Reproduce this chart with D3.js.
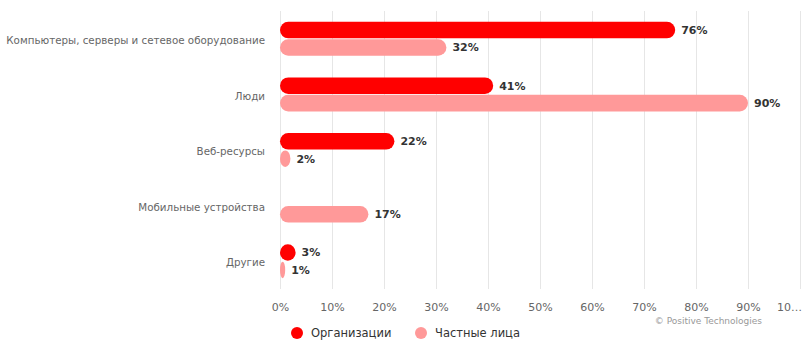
<!DOCTYPE html>
<html><head><meta charset="utf-8">
<script src="https://cdn.jsdelivr.net/npm/d3@7"></script>
<style>body{margin:0;background:#fff;}svg{display:block;}</style>
</head><body>
<svg id="c" width="805" height="340"></svg>
<script>
const categories = ["Компьютеры, серверы и сетевое оборудование","Люди","Веб-ресурсы","Мобильные устройства","Другие"];
const seriesNames = ["Организации","Частные лица"];
const orgValues = [76, 41, 22, 0, 3];
const privValues = [32, 90, 2, 17, 1];
const colors = ["#ff0000", "#ff9999"];
const tickValues = [0,10,20,30,40,50,60,70,80,90,100];

const svg = d3.select("#c");
const pLeft = 280, pRight = 800, pTop = 11, pBottom = 289;
const font = "'DejaVu Sans', Verdana, sans-serif";

const x = d3.scaleLinear().domain([0,100]).range([pLeft,pRight]);
const y = d3.scaleBand().domain(categories).range([pTop,pBottom]);
const inner = d3.scaleBand().domain(seriesNames).range([y.bandwidth()/2-17, y.bandwidth()/2+17]).paddingInner(0.05);

// gridlines
svg.append("g").selectAll("line").data(tickValues).join("line")
  .attr("x1", d=>Math.round(x(d))+0.5).attr("x2", d=>Math.round(x(d))+0.5)
  .attr("y1", pTop).attr("y2", pBottom)
  .attr("stroke", "#e6e6e6").attr("stroke-width", 1);

// x axis labels
const xa = svg.append("g").attr("transform", `translate(0,${pBottom})`)
  .call(d3.axisBottom(x).tickValues(tickValues).tickSize(0).tickPadding(14)
    .tickFormat(d => d === 100 ? "10…" : d + "%"));
xa.select(".domain").remove();
xa.selectAll("text").attr("fill","#666").style("font-family", font).style("font-size","11px");
xa.selectAll(".tick").filter(d=>d===100).select("text").attr("dx","-11");

// y labels
const ya = svg.append("g").attr("transform", `translate(${pLeft-15},2)`)
  .call(d3.axisLeft(y).tickSize(0).tickPadding(0));
ya.select(".domain").remove();
ya.selectAll("text").attr("fill","#666").style("font-family", font).style("font-size","10.3px");

const allSeries = [orgValues, privValues];
allSeries.forEach((vals, si) => {
  const g = svg.append("g");
  const data = categories.map((c,i)=>({c, v: vals[i]})).filter(d=>d.v>0);
  g.selectAll("rect").data(data).join("rect")
    .attr("x", x(0))
    .attr("y", d => y(d.c) + inner(seriesNames[si]))
    .attr("width", d => x(d.v) - x(0))
    .attr("height", inner.bandwidth())
    .attr("rx", inner.bandwidth()/2)
    .attr("fill", colors[si]);
  g.selectAll("text").data(data).join("text")
    .attr("x", d => x(d.v) + 6)
    .attr("y", d => y(d.c) + inner(seriesNames[si]) + inner.bandwidth()/2)
    .attr("dy", "0.35em")
    .attr("fill", "#333")
    .style("font-family", font).style("font-size","11px").style("font-weight","bold")
    .text(d => d.v + "%");
});

// legend
const legX = [297, 421];
seriesNames.forEach((n,i) => {
  svg.append("circle").attr("cx", legX[i]).attr("cy", 333).attr("r", 6).attr("fill", colors[i]);
  svg.append("text").attr("x", legX[i]+14).attr("y", 333).attr("dy","0.35em")
    .attr("fill","#333").style("font-family", font).style("font-size","11.5px").text(n);
});

svg.append("text").attr("x", 762).attr("y", 324).attr("text-anchor","end")
  .attr("fill","#999").style("font-family", font).style("font-size","9px").text("© Positive Technologies");
</script>
</body></html>
